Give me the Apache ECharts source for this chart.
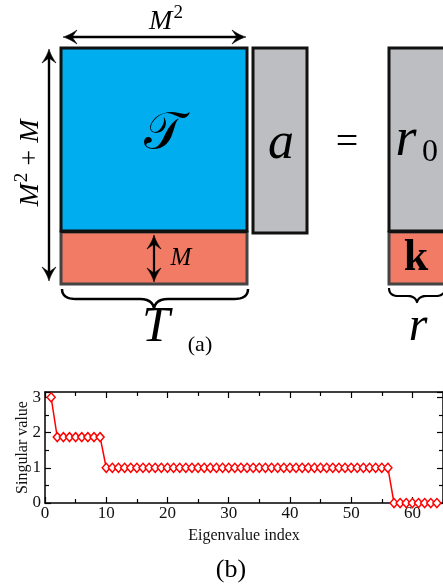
<!DOCTYPE html>
<html><head><meta charset="utf-8">
<script src="https://cdn.jsdelivr.net/npm/echarts@6/dist/echarts.min.js"></script>
<style>html,body{margin:0;padding:0;background:#fff}#c{width:443px;height:587px}</style>
</head><body><div id="c"></div>
<script>
// ---- data ----
const eigenIndex = [1,2,3,4,5,6,7,8,9,10,11,12,13,14,15,16,17,18,19,20,21,22,23,24,25,26,27,28,29,30,31,32,33,34,35,36,37,38,39,40,41,42,43,44,45,46,47,48,49,50,51,52,53,54,55,56,57,58,59,60,61,62,63,64];
const singularValues = [
  3,
  1.87,1.87,1.87,1.87,1.87,1.87,1.87,1.87,
  1,1,1,1,1,1,1,1,1,1,
  1,1,1,1,1,1,1,1,1,1,
  1,1,1,1,1,1,1,1,1,1,
  1,1,1,1,1,1,1,1,1,1,
  1,1,1,1,1,1,1,
  0,0,0,0,0,0,0,0
];
const xRange = [0, 65];
const yRange = [0, 3.15];
const xLabel = 'Eigenvalue index';
const yLabel = 'Singular value';

// ---- diagram helpers ----
const SERIF = '"Liberation Serif", "DejaVu Serif", serif';
function qpts(p0, c, p1, n) {
  const out = [];
  for (let i = 1; i <= n; i++) {
    const t = i / n, u = 1 - t;
    out.push([u*u*p0[0] + 2*u*t*c[0] + t*t*p1[0], u*u*p0[1] + 2*u*t*c[1] + t*t*p1[1]]);
  }
  return out;
}
function arrowHead(px, py, dx, dy) {
  const nx = -dy, ny = dx, L = 14, W = 7, N = 9;
  const P = [px, py];
  const b1 = [px - L*dx + W*nx, py - L*dy + W*ny];
  const b2 = [px - L*dx - W*nx, py - L*dy - W*ny];
  const nt = [px - N*dx, py - N*dy];
  const c1 = [px - 6*dx + 1.5*nx, py - 6*dy + 1.5*ny];
  const c2 = [px - 6*dx - 1.5*nx, py - 6*dy - 1.5*ny];
  const pts = [P].concat(qpts(P, c1, b1, 6), [nt], [b2], qpts(b2, c2, P, 6));
  return {type:'polygon', shape:{points:pts}, style:{fill:'#000', stroke:'#000', lineWidth:0.6}, z:20};
}
function dblArrow(x1, y1, x2, y2, w) {
  const len = Math.hypot(x2-x1, y2-y1), dx = (x2-x1)/len, dy = (y2-y1)/len;
  return [
    {type:'line', shape:{x1:x1+8*dx, y1:y1+8*dy, x2:x2-8*dx, y2:y2-8*dy}, style:{stroke:'#000', lineWidth:w||2.4}, z:20},
    arrowHead(x2, y2, dx, dy),
    arrowHead(x1, y1, -dx, -dy)
  ];
}
function brace(x1, x2, yTop, yMid, tipX, yTip, w) {
  const r = Math.min(14, (tipX - x1) / 3);
  const P = [[x1, yTop]]
    .concat(qpts([x1, yTop], [x1, yMid], [x1 + r, yMid], 8))
    .concat([[tipX - r, yMid]])
    .concat(qpts([tipX - r, yMid], [tipX - 2, yMid], [tipX, yTip], 6))
    .concat(qpts([tipX, yTip], [tipX + 2, yMid], [tipX + r, yMid], 6))
    .concat([[x2 - r, yMid]])
    .concat(qpts([x2 - r, yMid], [x2, yMid], [x2, yTop], 8));
  return {type:'polyline', shape:{points:P}, style:{fill:null, stroke:'#000', lineWidth:w, lineJoin:'round'}, z:20};
}
function txt(x, y, text, font, extra) {
  return {type:'text', x:x, y:y, z:30,
    style:Object.assign({text:text, font:font, fill:'#000', align:'center', verticalAlign:'middle'}, extra||{})};
}
const mRich = {
  i:{font:'italic 28px '+SERIF, padding:[7,0,0,0]},
  s:{font:'19px '+SERIF, padding:[0,0,10,1]},
  n:{font:'28px '+SERIF, padding:[7,0,0,0]}
};

const graphics = [
  // matrix blocks
  {type:'rect', shape:{x:61, y:48, width:186, height:183}, style:{fill:'#00ADEE', stroke:'#111', lineWidth:3}, z:10},
  {type:'rect', shape:{x:61, y:232, width:186, height:52}, style:{fill:'#F17B64', stroke:'#444', lineWidth:3}, z:9},
  {type:'line', shape:{x1:61, y1:231.5, x2:247, y2:231.5}, style:{stroke:'#111', lineWidth:3}, z:11},
  {type:'rect', shape:{x:253, y:48, width:54, height:185}, style:{fill:'#BCBEC1', stroke:'#111', lineWidth:3}, z:10},
  {type:'rect', shape:{x:389, y:48, width:70, height:183}, style:{fill:'#BCBEC1', stroke:'#111', lineWidth:3}, z:10},
  {type:'rect', shape:{x:389, y:232, width:70, height:52}, style:{fill:'#F17B64', stroke:'#444', lineWidth:3}, z:9},
  {type:'line', shape:{x1:389, y1:231.5, x2:459, y2:231.5}, style:{stroke:'#111', lineWidth:3}, z:11},
  // braces
  brace(62, 248, 289, 299, 154, 308, 2.5),
  brace(389, 445, 288, 296, 417, 302, 2.2),
  // labels
  txt(166, 18, '{i|M}{s|2}', '', {rich:mRich}),
  Object.assign(txt(27, 163, '{i|M}{s|2}{n| + }{i|M}', '', {rich:mRich}), {rotation:Math.PI/2}),
  txt(164, 134, '\uD835\uDCAF', '52px "DejaVu Serif", "DejaVu Sans", serif'),
  txt(281, 144, 'a', 'italic 52px '+SERIF),
  txt(347, 143, '=', '40px '+SERIF),
  txt(406, 141, 'r', 'italic 54px '+SERIF),
  txt(430, 153, '0', '32px '+SERIF),
  txt(416, 259, 'k', 'bold 44px '+SERIF),
  txt(181, 258, 'M', 'italic 25px '+SERIF),
  txt(156, 328, 'T', 'italic 50px '+SERIF),
  txt(200, 345, '(a)', '22px '+SERIF),
  txt(418, 327, 'r', 'italic 48px '+SERIF),
  txt(231, 570, '(b)', '26px '+SERIF)
].concat(dblArrow(63, 37, 246, 37), dblArrow(49, 49, 49, 281), dblArrow(154, 235, 154, 282, 2.2));

const axisLine = {show:true, onZero:false, lineStyle:{color:'#000', width:1.5}};
const lblFont = {fontFamily:'Liberation Serif', fontSize:17, color:'#111'};
const nameFont = {fontFamily:'Liberation Serif', fontSize:16, color:'#111'};
function xAx(pos, showLabel) {
  return {type:'value', position:pos, min:xRange[0], max:xRange[1], interval:10,
    axisLine:axisLine, axisTick:{show:true, inside:true, length:6, lineStyle:{color:'#000', width:1.2}},
    minorTick:{show:true, splitNumber:2, length:4, lineStyle:{color:'#000', width:1.2}},
    splitLine:{show:false}, minorSplitLine:{show:false},
    axisLabel:Object.assign({show:showLabel, margin:2, showMaxLabel:false}, lblFont),
    name: showLabel ? xLabel : '', nameLocation:'middle', nameGap:25, nameMoveOverlap:false,
    nameTextStyle:nameFont};
}
function yAx(pos, showLabel) {
  return {type:'value', position:pos, min:yRange[0], max:yRange[1], interval:1,
    axisLine:axisLine, axisTick:{show:true, inside:true, length:6, lineStyle:{color:'#000', width:1.2}},
    minorTick:{show:true, splitNumber:2, length:4, lineStyle:{color:'#000', width:1.2}},
    splitLine:{show:false}, minorSplitLine:{show:false},
    axisLabel:Object.assign({show:showLabel, margin:4, showMaxLabel:false}, lblFont),
    name: showLabel ? yLabel : '', nameLocation:'middle', nameGap:14, nameMoveOverlap:false,
    nameTextStyle:nameFont};
}

const chart = echarts.init(document.getElementById('c'), null, {renderer:'canvas'});
chart.setOption({
  animation:false,
  backgroundColor:'#fff',
  grid:{left:45, right:0, top:392, bottom:84, containLabel:false},
  xAxis:[xAx('bottom', true), xAx('top', false)],
  yAxis:[yAx('left', true), yAx('right', false)],
  series:[{
    type:'line', xAxisIndex:0, yAxisIndex:0,
    data: eigenIndex.map((x, i) => [x, singularValues[i]]),
    symbol:'diamond', symbolSize:[8, 9], showAllSymbol:true,
    lineStyle:{color:'#ff0000', width:1.5},
    itemStyle:{color:'#fff', borderColor:'#ff0000', borderWidth:1.5},
    z:5
  }],
  graphic: graphics
});
</script></body></html>
